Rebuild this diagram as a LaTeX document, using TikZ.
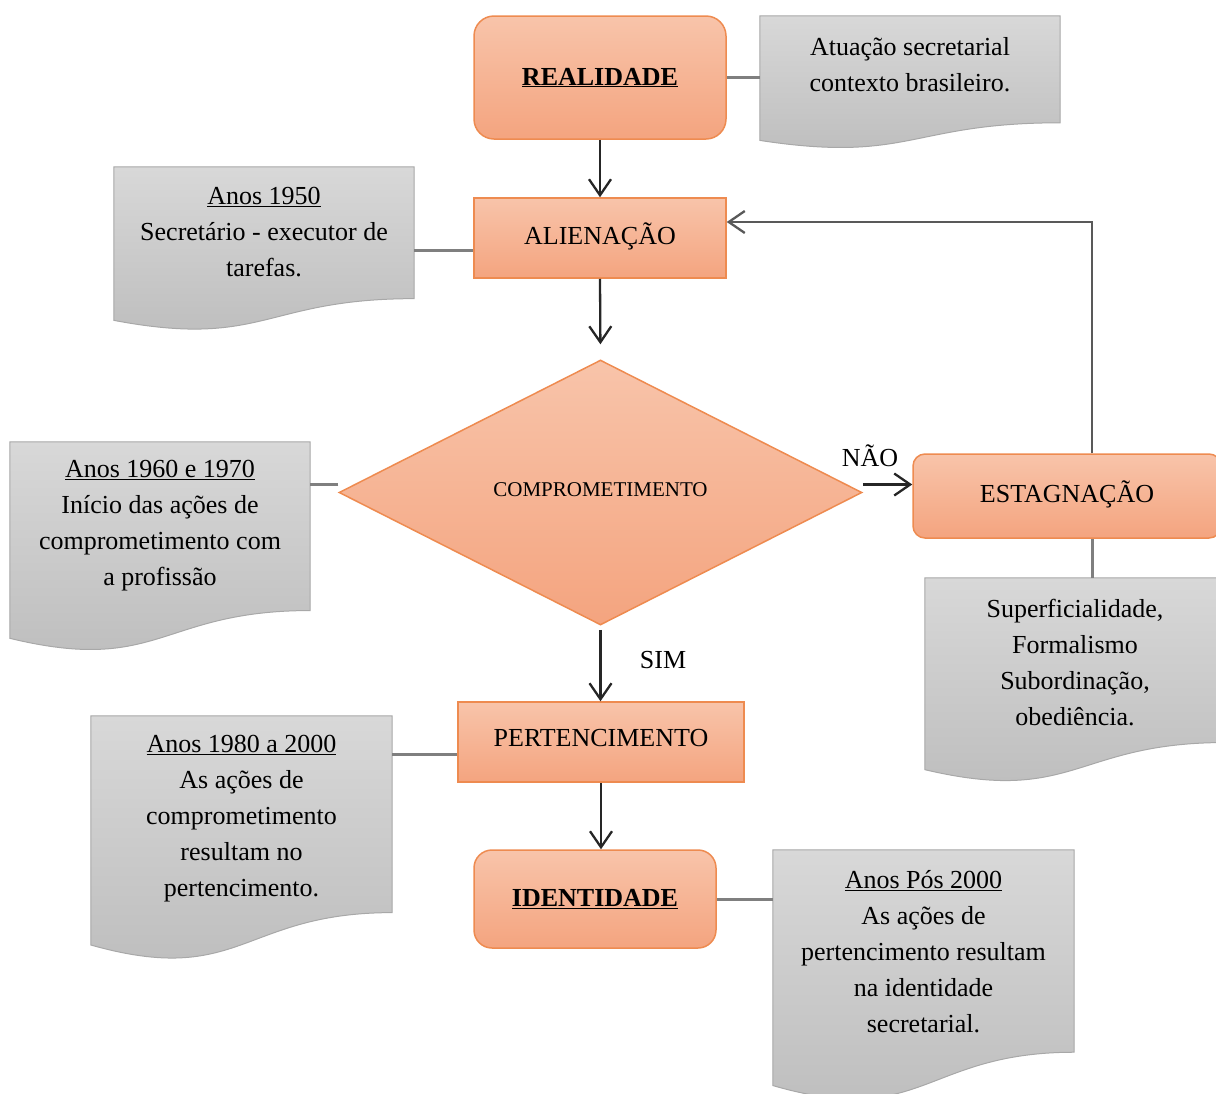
\documentclass[tikz,border=0pt]{standalone}
\usepackage{fontspec}
\setmainfont{Liberation Serif}
\usetikzlibrary{arrows.meta,calc,backgrounds,shapes.geometric}
\definecolor{orT}{HTML}{F8C4AA}
\definecolor{orB}{HTML}{F4A47F}
\definecolor{ordraw}{HTML}{EE8B50}
\definecolor{grT}{HTML}{D8D8D8}
\definecolor{grB}{HTML}{BCBCBC}
\definecolor{grdraw}{HTML}{A8A8A8}
\definecolor{linkc}{HTML}{7F7F7F}
\newcommand{\docpath}[1]{%
  \begin{pgfonlayer}{background}
  \path[docstyle] (#1.north west) -- (#1.north east)
    -- ($(#1.north east)!0.802!(#1.south east)$)
    .. controls ($(#1.north)!0.802!(#1.south)$) and ($(#1.north)!1.107!(#1.south)$)
    .. ($(#1.north west)!0.934!(#1.south west)$) -- cycle;
  \end{pgfonlayer}}
\tikzset{
  every node/.style={font=\fontsize{26}{36}\selectfont},
  orbox/.style={rectangle, top color=orT, bottom color=orB, draw=ordraw, line width=1.5pt, inner sep=0pt},
  docbox/.style={rectangle, draw=none, fill=none, inner sep=0pt},
  docstyle/.style={top color=grT, bottom color=grB, draw=grdraw, line width=1pt},
  doctext/.style={align=center, inner sep=0pt},
  link/.style={draw=linkc, line width=3pt},
  flow/.style={draw=black!85, line width=2.3pt, -{Straight Barb[length=16pt,width=22pt,line width=2.3pt]}},
  lbl/.style={inner sep=0pt},
}
\begin{document}
\begin{tikzpicture}[x=1pt,y=-1pt]
\useasboundingbox (0,0) rectangle (1216,1093);

% main flow nodes
\node[orbox, rounded corners=20pt, minimum width=252pt, minimum height=123pt] (real) at (600,77.5) {\textbf{\underline{REALIDADE}}};
\node[orbox, minimum width=252pt, minimum height=80pt] (alien) at (600,238) {\raisebox{8pt}{ALIENAÇÃO}};
\node[orbox, diamond, aspect=2, minimum width=523pt, minimum height=265pt] (comp) at (600.5,492.5) {\raisebox{6pt}{\fontsize{21}{26}\selectfont COMPROMETIMENTO}};
\node[orbox, rounded corners=12pt, minimum width=308pt, minimum height=84pt] (estag) at (1067,496) {\raisebox{9pt}{ESTAGNAÇÃO}};
\node[orbox, minimum width=286pt, minimum height=80pt] (pert) at (601,742) {\raisebox{9pt}{PERTENCIMENTO}};
\node[orbox, rounded corners=18pt, minimum width=242pt, minimum height=98pt] (ident) at (595,899) {\textbf{\underline{IDENTIDADE}}};

% document nodes
\node[docbox, minimum width=300pt, minimum height=133pt] (dA) at (910,82.5) {};
\node[docbox, minimum width=300pt, minimum height=164pt] (d50) at (264,249) {};
\node[docbox, minimum width=300pt, minimum height=210pt] (d60) at (160,547) {};
\node[docbox, minimum width=300pt, minimum height=205pt] (dS) at (1075,680.5) {};
\node[docbox, minimum width=301pt, minimum height=245pt] (d80) at (241.5,838.5) {};
\node[docbox, minimum width=301pt, minimum height=252pt] (d2k) at (923.5,976) {};
\docpath{dA}\docpath{d50}\docpath{d60}\docpath{dS}\docpath{d80}\docpath{d2k}

% document texts
\node[doctext] (tA) at (910,65) {Atuação secretarial\\contexto brasileiro.};
\node[doctext] (t50) at (264,232) {\underline{Anos 1950}\\Secretário - executor de\\tarefas.};
\node[doctext] (t60) at (160,526) {\underline{Anos 1960 e 1970}\\Início das ações de\\comprometimento com\\a profissão};
\node[doctext] (tS) at (1075,662.5) {Superficialidade,\\Formalismo\\Subordinação,\\obediência.};
\node[doctext] (t80) at (241.5,818.5) {\underline{Anos 1980 a 2000}\\As ações de\\comprometimento\\resultam no\\pertencimento.};
\node[doctext] (t2k) at (923.5,952) {\underline{Anos Pós 2000}\\As ações de\\pertencimento resultam\\na identidade\\secretarial.};

% links to documents
\coordinate (fb) at (1092,222);
\begin{pgfonlayer}{background}
\draw[link] (real.east) -- (real.east -| dA.west);
\draw[link] ([yshift=-12pt]alien.west) -- ([yshift=-12pt]alien.west -| d50.east);
\draw[link] ([yshift=8pt]comp.west) -- ([yshift=8pt]comp.west -| d60.east);
\draw[link] (fb |- estag.south) -- (fb |- dS.north);
\draw[link] ([yshift=-12pt]pert.west) -- ([yshift=-12pt]pert.west -| d80.east);
\draw[link] (ident.east) -- (ident.east -| d2k.west);
\end{pgfonlayer}

% flow arrows
\draw[flow] (real.south) -- (alien.north);
\draw[flow, shorten >=15pt] (alien.south) -- (comp.north);
\draw[flow, shorten <=4pt] (comp.south) -- (comp.south |- pert.north);
\draw[flow] (pert.south) -- (pert.south |- ident.north);
\draw[flow] ([yshift=8pt]comp.east) -- ([yshift=8pt]comp.east -| estag.west);
\draw[flow, draw=black!65] (fb |- estag.north) -- (fb) -- (fb -| alien.east);

% labels
\node[lbl] (nao) at (870,456) {NÃO};
\node[lbl] (sim) at (663,660) {SIM};
\end{tikzpicture}
\end{document}
